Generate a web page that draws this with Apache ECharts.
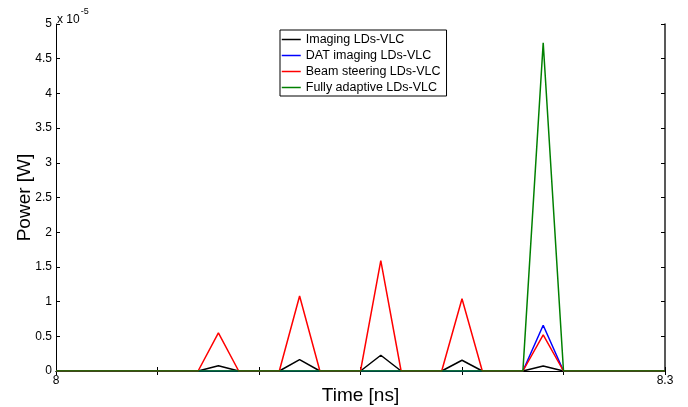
<!DOCTYPE html>
<html>
<head>
<meta charset="utf-8">
<script src="https://cdn.jsdelivr.net/npm/echarts@6/dist/echarts.min.js"></script>
<style>html,body{margin:0;padding:0;background:#fff;}#c{width:688px;height:407px;}</style>
</head>
<body>
<div id="c"></div>
<script>
// Time samples [ns]
const times = [8.00,8.01,8.02,8.03,8.04,8.05,8.06,8.07,8.08,8.09,
               8.10,8.11,8.12,8.13,8.14,8.15,8.16,8.17,8.18,8.19,
               8.20,8.21,8.22,8.23,8.24,8.25,8.26,8.27,8.28,8.29,8.30];
// Power [W]
const imaging = [0,0,0,0,0,0,0,0,7.7e-7,0, 0,0,1.64e-6,0,0,0,2.27e-6,0,0,0, 1.55e-6,0,0,0,7.2e-7,0,0,0,0,0,0];
const datImaging = [0,0,0,0,0,0,0,0,0,0, 0,0,0,0,0,0,0,0,0,0, 0,0,0,0,6.6e-6,0,0,0,0,0,0];
const beamSteering = [0,0,0,0,0,0,0,0,5.5e-6,0, 0,0,1.08e-5,0,0,0,1.59e-5,0,0,0, 1.04e-5,0,0,0,5.2e-6,0,0,0,0,0,0];
const fullyAdaptive = [0,0,0,0,0,0,0,0,0,0, 0,0,0,0,0,0,0,0,0,0, 0,0,0,0,4.73e-5,0,0,0,0,0,0];
const seriesNames = ['Imaging LDs-VLC','DAT imaging LDs-VLC','Beam steering LDs-VLC','Fully adaptive LDs-VLC'];
const seriesColors = ['#000000','#0000ff','#ff0000','#008000'];
const yTicks = [0,0.5,1,1.5,2,2.5,3,3.5,4,4.5,5];

const allData = [imaging, datImaging, beamSteering, fullyAdaptive];
const font = 'Liberation Sans, Arial, Helvetica, sans-serif';

const chart = echarts.init(document.getElementById('c'));
chart.setOption({
  animation: false,
  backgroundColor: '#fff',
  grid: {left: 56, right: 23, top: 24, bottom: 36, containLabel: false, outerBoundsMode: 'none'},
  legend: {
    orient: 'vertical',
    left: 280, top: 30,
    padding: [3, 6, 2, 1],
    itemGap: 3,
    itemWidth: 19,
    itemHeight: 12,
    itemTextGap: 0,
    borderColor: '#000',
    borderWidth: 1,
    backgroundColor: '#fff',
    itemStyle: {opacity: 0},
    lineStyle: {width: 1.5},
    textStyle: {fontFamily: font, fontSize: 12.5, color: '#000'},
    data: seriesNames
  },
  xAxis: [{
    type: 'value', min: 8, max: 8.3, interval: 0.05,
    name: 'Time [ns]', nameLocation: 'middle', nameGap: 15, nameMoveOverlap: false,
    nameTextStyle: {fontFamily: font, fontSize: 19, color: '#000'},
    axisLine: {lineStyle: {color: '#000', width: 1}},
    axisTick: {inside: true, length: 4, lineStyle: {color: '#000'}},
    axisLabel: {
      fontFamily: font, fontSize: 12, color: '#000', margin: 4,
      formatter: v => Math.abs(v - 8) < 1e-9 ? '8' : (Math.abs(v - 8.3) < 1e-9 ? '8.3' : '')
    },
    splitLine: {show: false}
  }, {
    type: 'value', min: 8, max: 8.3, interval: 0.05, position: 'top',
    axisLine: {lineStyle: {color: '#000', width: 1}},
    axisTick: {inside: true, length: 4, lineStyle: {color: '#000'}},
    axisLabel: {show: false},
    splitLine: {show: false}
  }],
  yAxis: [{
    type: 'value', min: 0, max: 5e-5, interval: 0.5e-5,
    name: 'Power [W]', nameLocation: 'middle', nameGap: 22, nameMoveOverlap: false,
    nameTextStyle: {fontFamily: font, fontSize: 19, color: '#000'},
    axisLine: {show: true, lineStyle: {color: '#000', width: 1}},
    axisTick: {show: true, inside: true, length: 4, lineStyle: {color: '#000'}},
    axisLabel: {
      fontFamily: font, fontSize: 12, color: '#000', margin: 4,
      formatter: v => {
        const s = v * 1e5;
        const t = yTicks.find(k => Math.abs(k - s) < 1e-6);
        return t === undefined ? '' : String(t);
      }
    },
    splitLine: {show: false}
  }, {
    type: 'value', min: 0, max: 5e-5, interval: 0.5e-5, position: 'right',
    axisLine: {show: true, lineStyle: {color: '#222', width: 1.5}},
    axisTick: {show: true, inside: true, length: 4, lineStyle: {color: '#000'}},
    axisLabel: {show: false},
    splitLine: {show: false}
  }],
  graphic: [{
    type: 'text', left: 57, top: 7,
    style: {
      text: '{a|x 10}{b|-5}',
      rich: {
        a: {fontFamily: font, fontSize: 12, fill: '#000', verticalAlign: 'bottom', padding: [7, 0, 0, 0]},
        b: {fontFamily: font, fontSize: 9, fill: '#000', verticalAlign: 'top', padding: [0, 0, 7, 1]}
      }
    }
  }],
  series: allData.map((d, i) => ({
    name: seriesNames[i],
    type: 'line',
    data: times.map((t, j) => [t, d[j]]),
    symbol: 'none',
    color: seriesColors[i],
    lineStyle: {color: seriesColors[i], width: 1.5},
    z: 2 + i
  }))
});
</script>
</body>
</html>
